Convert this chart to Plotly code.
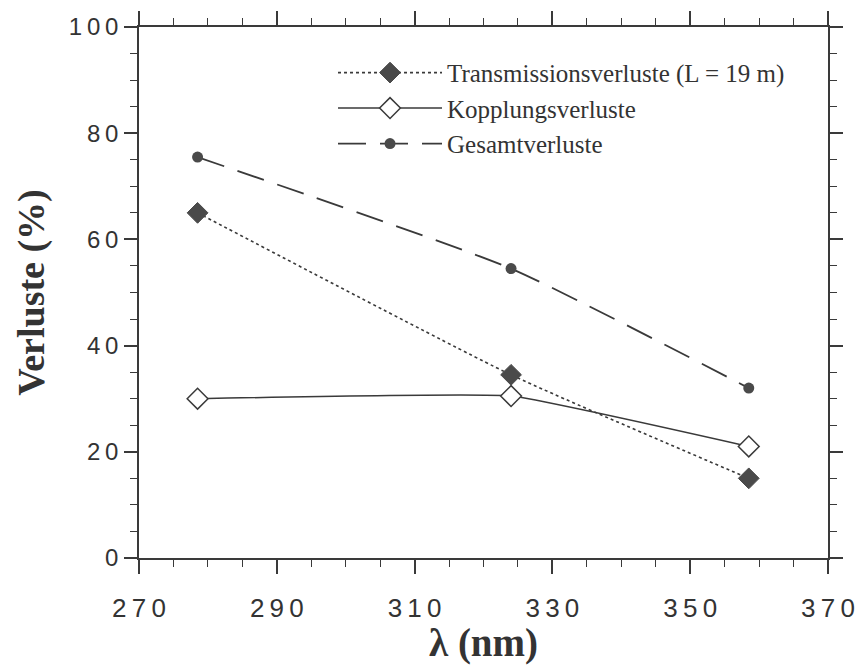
import plotly.graph_objects as go

wavelength = [278.5, 324.0, 358.5]
transmission = [65.0, 34.5, 15.0]
kopplung = [30.0, 30.5, 21.0]
gesamt = [75.5, 54.5, 32.0]

names = ["Transmissionsverluste (L = 19 m)", "Kopplungsverluste", "Gesamtverluste"]
x_ticks = [270, 290, 310, 330, 350, 370]
y_ticks = [0, 20, 40, 60, 80, 100]

THIN = "\u2009"
def spaced(v):
    return THIN.join(str(v))

ink = "#3a3a3a"
fig = go.Figure()
fig.add_trace(go.Scatter(
    x=wavelength, y=transmission, name=names[0], mode="lines+markers",
    line=dict(color=ink, width=1.6, dash="dot", shape="spline", smoothing=0.5),
    marker=dict(symbol="diamond", size=16, color="#4a4a4a", line=dict(color="#4a4a4a", width=1)),
    legendgroup="a"))
fig.add_trace(go.Scatter(
    x=wavelength, y=kopplung, name=names[1], mode="lines+markers",
    line=dict(color=ink, width=1.5, shape="spline", smoothing=0.3),
    marker=dict(symbol="diamond", size=16, color="white", line=dict(color=ink, width=1.5)),
    legendgroup="b"))
fig.add_trace(go.Scatter(
    x=wavelength, y=gesamt, name=names[2], mode="lines+markers",
    line=dict(color=ink, width=1.8, dash="28px,14px", shape="spline", smoothing=0.5),
    marker=dict(symbol="circle", size=11, color="#4a4a4a"),
    legendgroup="c"))

axis_common = dict(
    showline=True, linecolor=ink, linewidth=1.5, mirror="ticks",
    ticks="outside", tickwidth=1.5, tickcolor=ink,
    showgrid=False, zeroline=False, automargin=False,
)
fig.update_xaxes(
    range=[270, 370], tickvals=x_ticks, ticktext=[spaced(v) for v in x_ticks],
    ticklen=14, ticklabelstandoff=12,
    tickfont=dict(family="Liberation Sans, Arial", size=26, color="#333"),
    minor=dict(dtick=5, tick0=270, ticks="outside", ticklen=7, tickwidth=1.3, tickcolor=ink),
    title=dict(text="<b>λ (nm)</b>", font=dict(family="Liberation Serif, Times New Roman", size=39, color="#333"), standoff=0),
    **axis_common)
fig.update_yaxes(
    range=[0, 100], tickvals=y_ticks, ticktext=[spaced(v) for v in y_ticks],
    ticklen=13, ticklabelstandoff=1,
    tickfont=dict(family="Liberation Sans, Arial", size=24, color="#333"),
    minor=dict(dtick=5, tick0=0, ticks="outside", ticklen=7, tickwidth=1.3, tickcolor=ink),
    title=dict(text="<b>Verluste (%)</b>", font=dict(family="Liberation Serif, Times New Roman", size=38, color="#333"), standoff=12),
    **axis_common)

fig.update_layout(
    width=865, height=665,
    margin=dict(l=139, r=37, t=27, b=107),
    plot_bgcolor="white", paper_bgcolor="white",
    legend=dict(
        x=0.2816, y=0.957, xanchor="left", yanchor="top",
        font=dict(family="Liberation Serif, Times New Roman", size=25, color="#333"),
        bgcolor="rgba(0,0,0,0)", itemwidth=104, tracegroupgap=0,
        traceorder="grouped",
    ),
)
fig.write_html("out.html")
